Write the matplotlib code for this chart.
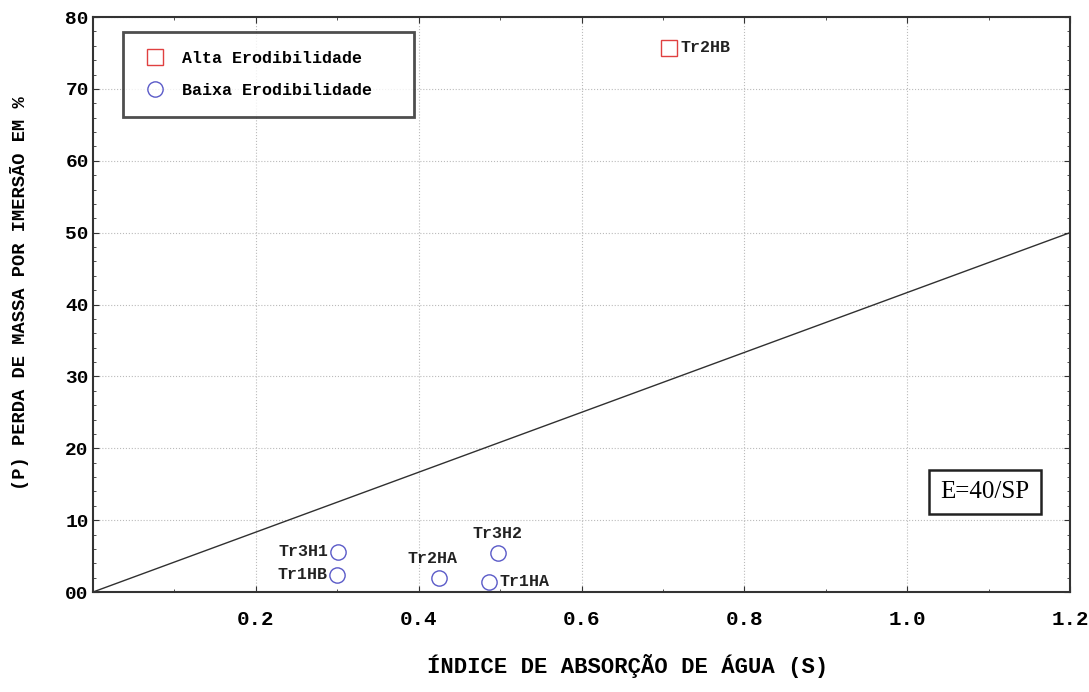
import numpy as np
import matplotlib
matplotlib.use("Agg")
import matplotlib.pyplot as plt
from matplotlib.ticker import MultipleLocator

# dados
alta_nomes = ["Tr2HB"]
alta_s = [0.708]
alta_p = [75.7]

baixa_nomes = ["Tr3H1", "Tr1HB", "Tr2HA", "Tr3H2", "Tr1HA"]
baixa_s = [0.301, 0.300, 0.425, 0.497, 0.486]
baixa_p = [5.6, 2.4, 1.9, 5.4, 1.4]

# reta E=40/SP
reta_s = [0.0, 1.2]
reta_p = [0.0, 50.0]

xticks = [0.2, 0.4, 0.6, 0.8, 1.0, 1.2]
xtick_labels = ["0.2", "0.4", "0.6", "0.8", "1.0", "1.2"]
yticks = [0, 10, 20, 30, 40, 50, 60, 70, 80]
ytick_labels = ["00", "10", "20", "30", "40", "50", "60", "70", "80"]

MONO = ["Liberation Mono", "DejaVu Sans Mono"]
SERIF = ["Liberation Serif", "DejaVu Serif"]
plt.rcParams["font.family"] = MONO
plt.rcParams["font.weight"] = "bold"
plt.rcParams["axes.labelweight"] = "bold"

fig = plt.figure(figsize=(10.89, 6.92), dpi=100)
ax = fig.add_axes([0.0854, 0.1445, 0.8972, 0.8309])

ax.plot(reta_s, reta_p, color="#303030", lw=1.0)

ax.plot(alta_s, alta_p, "s", ms=11, mfc="none", mec="#e04040", mew=1.0,
        label="Alta Erodibilidade")
ax.plot(baixa_s, baixa_p, "o", ms=11, mfc="none", mec="#5a5ac8", mew=1.0,
        label="Baixa Erodibilidade")

# rotulos dos pontos
offsets = {
    "Tr2HB": (8, 0, "left", "center"),
    "Tr3H1": (-7, 0, "right", "center"),
    "Tr1HB": (-7, 0, "right", "center"),
    "Tr2HA": (-5, 9, "center", "bottom"),
    "Tr3H2": (0, 9, "center", "bottom"),
    "Tr1HA": (8, 0, "left", "center"),
}
for nome, s, p in zip(alta_nomes + baixa_nomes, alta_s + baixa_s, alta_p + baixa_p):
    dx, dy, ha, va = offsets[nome]
    ax.annotate(nome, (s, p), xytext=(dx, dy), textcoords="offset points",
                ha=ha, va=va, fontsize=12, fontweight="bold", color="#222222")

ax.set_xlim(0, 1.2)
ax.set_ylim(0, 80)
ax.set_xticks(xticks)
ax.set_xticklabels(xtick_labels, fontsize=15)
ax.set_yticks(yticks)
ax.set_yticklabels(ytick_labels, fontsize=14)
ax.xaxis.set_minor_locator(MultipleLocator(0.1))
ax.yaxis.set_minor_locator(MultipleLocator(2))
ax.tick_params(which="both", direction="in", top=True, right=True, color="#333333")
ax.tick_params(which="major", length=4)
ax.tick_params(which="minor", length=2)
ax.tick_params(axis="x", pad=13)
ax.tick_params(axis="y", pad=3)
for sp in ax.spines.values():
    sp.set_linewidth(1.5)
    sp.set_color("#333333")

ax.grid(True, which="major", ls=":", lw=0.8, color="#bbbbbb")

ax.set_xlabel("ÍNDICE DE ABSORÇÃO DE ÁGUA (S)", fontsize=16)
ax.xaxis.set_label_coords(0.547, -0.108)
ax.set_ylabel("(P) PERDA DE MASSA POR IMERSÃO EM %", fontsize=13.5)
ax.yaxis.set_label_coords(-0.066, 0.52)

leg = ax.legend(loc="upper left", bbox_to_anchor=(0.0307, 0.974, 0.298, 0.0),
                mode="expand", fontsize=12, frameon=True, fancybox=False,
                borderpad=1.15, handletextpad=0.8, handlelength=1.6,
                labelspacing=1.0, borderaxespad=0)
leg.get_frame().set_edgecolor("#222222")
leg.get_frame().set_linewidth(2.0)

ax.text(0.913, 0.174, "E=40/SP", transform=ax.transAxes, ha="center", va="center",
        fontsize=18, fontweight="normal", family=SERIF,
        bbox=dict(boxstyle="square,pad=0.45", fc="white", ec="#222222", lw=1.8))

fig.savefig("out.png", dpi=100)
